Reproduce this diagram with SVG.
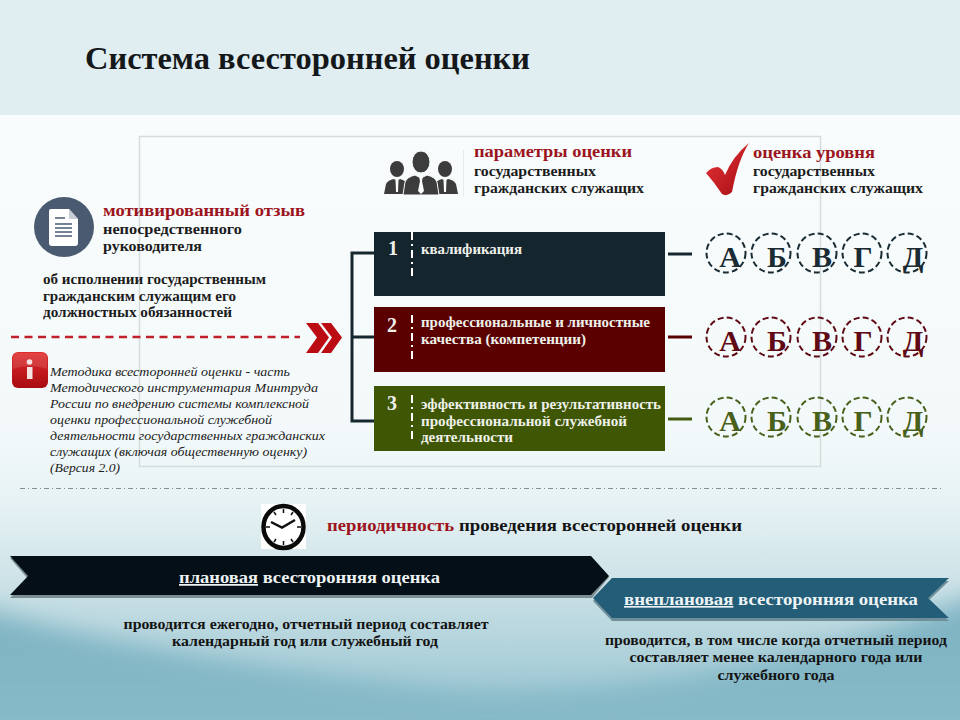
<svg xmlns="http://www.w3.org/2000/svg" width="960" height="720" viewBox="0 0 960 720">
<style>
text{font-family:"Liberation Serif","DejaVu Serif",serif;fill:#141414}
.b{font-weight:bold}
.s{font-size:14px;font-weight:bold;fill:#1c1c1c}
.r{font-size:16.500px;font-weight:bold;fill:#9c1420}
.w{font-size:14px;font-weight:bold;fill:#eef0ea}
.n{font-size:20px;font-weight:bold;fill:#f0f0ea}
.i{font-size:13.500px;font-style:italic;fill:#222}
.l{font-size:30px;font-weight:bold;text-anchor:middle}
.c{fill:none;stroke-width:2;stroke-dasharray:6 3.200}
.d{fill:none;stroke:#fff;stroke-width:2;stroke-dasharray:8 4 2 4}
</style>
<defs>
<linearGradient id="bg" gradientUnits="userSpaceOnUse" x1="0" y1="0" x2="0" y2="720"><stop offset="0" stop-color="#fbfdfd"/><stop offset=".6" stop-color="#f3f9fa"/><stop offset=".7" stop-color="#e6f2f4"/><stop offset=".8" stop-color="#cfe3e8"/><stop offset=".93" stop-color="#a9ced8"/><stop offset="1" stop-color="#98c3cf"/></linearGradient>
<linearGradient id="wave" gradientUnits="userSpaceOnUse" x1="0" y1="580" x2="0" y2="720"><stop offset="0" stop-color="#6fa9bb"/><stop offset="1" stop-color="#84b9c8"/></linearGradient>
<linearGradient id="red" x1="0" y1="0" x2="0" y2="1"><stop offset="0" stop-color="#e02b2b"/><stop offset="1" stop-color="#a80c12"/></linearGradient>
<linearGradient id="chk" x1="0" y1="0" x2="1" y2="1"><stop offset="0" stop-color="#e8343a"/><stop offset="1" stop-color="#a40d12"/></linearGradient>
<filter id="soft" x="-5%" y="-20%" width="110%" height="140%"><feGaussianBlur stdDeviation="12"/></filter>
</defs>
<rect width="960" height="720" fill="url(#bg)"/>
<path d="M-30 606Q180 665 470 692Q730 696 990 590V760H-30z" fill="url(#wave)" filter="url(#soft)" opacity=".85"/>
<rect width="960" height="115" fill="#e0edf1"/>
<text id="title" x="85" y="69" class="b" font-size="31" textLength="445" lengthAdjust="spacingAndGlyphs" style="fill:#14181b">Система всесторонней оценки</text>
<rect x="139.500" y="136.500" width="681" height="330" fill="none" stroke="#d6dcdc" stroke-width="1.500"/>

<g id="otzyv">
<circle cx="64" cy="227" r="30" fill="#4a5b71"/>
<path d="M51 209H69L78 219V243Q78 246 75 246H52Q49 246 49 243V211Q49 209 51 209z" fill="#fff"/>
<path d="M69 209V219H78z" fill="#c8ced6"/>
<path d="M55 218H65M55 224H72M55 228H72M55 232H72M55 236H72" stroke="#4a5b71" stroke-width="1.500"/>
<text x="103" y="216" class="r" textLength="202" lengthAdjust="spacingAndGlyphs">мотивированный отзыв</text>
<text x="103" y="234" class="s" textLength="139" lengthAdjust="spacingAndGlyphs">непосредственного</text>
<text x="103" y="251" class="s" textLength="99" lengthAdjust="spacingAndGlyphs">руководителя</text>
<text x="43" y="284" class="s" textLength="223" lengthAdjust="spacingAndGlyphs">об исполнении государственным</text>
<text x="43" y="301" class="s" textLength="193" lengthAdjust="spacingAndGlyphs">гражданским служащим  его</text>
<text x="43" y="317" class="s" textLength="189" lengthAdjust="spacingAndGlyphs">должностных обязанностей</text>
</g>

<g id="connectors">
<path d="M11 337H300" stroke="#c0202a" stroke-width="2.500" stroke-dasharray="8 5.500" fill="none"/>
<path d="M374 253H352V421H374M352 337H374" fill="none" stroke="#16282f" stroke-width="3"/>
<path d="M668 254H692" stroke="#16282f" stroke-width="3"/>
<path d="M668 337H692" stroke="#5a0000" stroke-width="3"/>
<path d="M668 419H692" stroke="#435a10" stroke-width="3"/>
<path d="M20 488.500H942" stroke="#7f9094" stroke-dasharray="5 3 1 3" fill="none"/>
</g>
<path id="chevrons" d="M306 323H318L329 337.500L318 353H306L317 337.500zM321 323H331L342 337.500L331 353H321L332 337.500z" fill="#bb0c14"/>

<g id="info">
<rect x="12" y="352" width="36" height="36" rx="6" fill="url(#red)"/>
<path d="M13 369Q30 363 47 369V358Q47 353 42 353H18Q13 353 13 358z" fill="#fff" opacity=".12"/>
<circle cx="29.500" cy="362" r="2.800" fill="#f4e4e4"/>
<rect x="27" y="367" width="5.500" height="12" fill="#f4e4e4"/>
<text x="50" y="376" class="i" textLength="240" lengthAdjust="spacingAndGlyphs">Методика всесторонней оценки  - часть</text>
<text x="50" y="392" class="i" textLength="268" lengthAdjust="spacingAndGlyphs">Методического инструментария  Минтруда</text>
<text x="50" y="408" class="i" textLength="259" lengthAdjust="spacingAndGlyphs">России по внедрению системы комплексной</text>
<text x="50" y="424" class="i" textLength="222" lengthAdjust="spacingAndGlyphs">оценки профессиональной служебной</text>
<text x="50" y="440" class="i" textLength="275" lengthAdjust="spacingAndGlyphs">деятельности государственных гражданских</text>
<text x="50" y="456" class="i" textLength="257" lengthAdjust="spacingAndGlyphs">служащих (включая общественную оценку)</text>
<text x="50" y="472" class="i" textLength="70" lengthAdjust="spacingAndGlyphs">(Версия 2.0)</text>
</g>

<g id="params">
<g fill="#3c3c3c">
<ellipse cx="397" cy="169" rx="7" ry="8"/>
<ellipse cx="445" cy="169" rx="7" ry="8"/>
<path d="M384 194L386 184Q388 180 394 179L397 181L400 179Q406 181 408 184V194z"/>
<path d="M458 194L456 184Q454 180 448 179L445 181L442 179Q436 181 434 184V194z"/>
<path d="M403 195L405 182Q407 177 415 175L421 178L427 175Q435 177 437 182L439 195z" stroke="#fbfdfd" stroke-width="1"/>
<ellipse cx="421" cy="162" rx="9" ry="11" stroke="#fbfdfd" stroke-width="1"/>
</g>
<path d="M419 176H423L422 181L424 191L421 194L418 191L420 181z" fill="#fbfdfd"/>
<path d="M395.500 180H398.500L398 192H396zM443.500 180H446.500L446 192H444z" fill="#fbfdfd"/>
<path d="M463.500 150V196" stroke="#e6ecec"/>
<text x="474" y="157" class="r" textLength="158" lengthAdjust="spacingAndGlyphs">параметры оценки</text>
<text x="474" y="176" class="s" textLength="122" lengthAdjust="spacingAndGlyphs">государственных</text>
<text x="474" y="193" class="s" textLength="170" lengthAdjust="spacingAndGlyphs">гражданских служащих</text>
</g>
<g id="level">
<path d="M706 173Q711 167 718 167Q723 169 725 175Q733 156 749 143Q738 160 732 192Q727 197 722 194Q714 182 706 173z" fill="url(#chk)"/>
<text x="753" y="158" class="r" textLength="122" lengthAdjust="spacingAndGlyphs">оценка уровня</text>
<text x="753" y="176" class="s" textLength="122" lengthAdjust="spacingAndGlyphs">государственных</text>
<text x="753" y="193" class="s" textLength="170" lengthAdjust="spacingAndGlyphs">гражданских служащих</text>
</g>

<g id="row1">
<rect x="374" y="232" width="291" height="64" fill="#14252d"/>
<text x="388" y="255" class="n">1</text>
<path d="M412 232V276" class="d"/>
<text x="421" y="254" class="w" textLength="101" lengthAdjust="spacingAndGlyphs">квалификация</text>
</g>
<g id="row2">
<rect x="374" y="307" width="291" height="65" fill="#5a0000"/>
<text x="387" y="332" class="n">2</text>
<path d="M412 315V360" class="d"/>
<text x="421" y="327" class="w" textLength="229" lengthAdjust="spacingAndGlyphs">профессиональные и личностные</text>
<text x="421" y="344" class="w" textLength="165" lengthAdjust="spacingAndGlyphs">качества (компетенции)</text>
</g>
<g id="row3">
<rect x="374" y="386" width="291" height="65" fill="#3f5605"/>
<text x="387" y="410" class="n">3</text>
<path d="M412 395V440" class="d"/>
<text x="421" y="409" class="w" textLength="240" lengthAdjust="spacingAndGlyphs">эффективность и результативность</text>
<text x="421" y="426" class="w" textLength="206" lengthAdjust="spacingAndGlyphs">профессиональной служебной</text>
<text x="421" y="442" class="w" textLength="92" lengthAdjust="spacingAndGlyphs">деятельности</text>
</g>

<g id="grades1">
<g stroke="#1a2b33"><circle class="c" cx="726" cy="253" r="19.500"/><circle class="c" cx="771" cy="253" r="19.500"/><circle class="c" cx="817" cy="253" r="19.500"/><circle class="c" cx="862" cy="253" r="19.500"/><circle class="c" cx="907" cy="253" r="19.500"/></g>
<text x="730" y="267" class="l" style="fill:#1a2b33">А</text><text x="777" y="267" class="l" style="fill:#1a2b33">Б</text><text x="822" y="267" class="l" style="fill:#1a2b33">В</text><text x="863" y="267" class="l" style="fill:#1a2b33">Г</text><text x="913" y="267" class="l" style="fill:#1a2b33">Д</text>
</g>
<g id="grades2">
<g stroke="#5f0a14"><circle class="c" cx="726" cy="337" r="19.500"/><circle class="c" cx="771" cy="337" r="19.500"/><circle class="c" cx="817" cy="337" r="19.500"/><circle class="c" cx="862" cy="337" r="19.500"/><circle class="c" cx="907" cy="337" r="19.500"/></g>
<text x="730" y="351" class="l" style="fill:#5f0a14">А</text><text x="777" y="351" class="l" style="fill:#5f0a14">Б</text><text x="822" y="351" class="l" style="fill:#5f0a14">В</text><text x="863" y="351" class="l" style="fill:#5f0a14">Г</text><text x="913" y="351" class="l" style="fill:#5f0a14">Д</text>
</g>
<g id="grades3">
<g stroke="#48601a"><circle class="c" cx="726" cy="417" r="19.500"/><circle class="c" cx="771" cy="417" r="19.500"/><circle class="c" cx="817" cy="417" r="19.500"/><circle class="c" cx="862" cy="417" r="19.500"/><circle class="c" cx="907" cy="417" r="19.500"/></g>
<text x="730" y="431" class="l" style="fill:#48601a">А</text><text x="777" y="431" class="l" style="fill:#48601a">Б</text><text x="822" y="431" class="l" style="fill:#48601a">В</text><text x="863" y="431" class="l" style="fill:#48601a">Г</text><text x="913" y="431" class="l" style="fill:#48601a">Д</text>
</g>

<g id="clock">
<rect x="261" y="504" width="45" height="45" fill="#fff"/>
<ellipse cx="283.500" cy="527" rx="20" ry="21" fill="#fff" stroke="#0a0a0a" stroke-width="4.500"/>
<path d="M283.500 509V513M283.500 541V545M266 527H270M297 527H301M274 512L276 515M293 512L291 515M274 542L276 539M293 542L291 539" stroke="#111" stroke-width="1.500"/>
<path d="M271 522L282 527.500L295 520" fill="none" stroke="#111" stroke-width="2.500"/>
<text x="327" y="531" font-size="17.500" class="b" textLength="127" lengthAdjust="spacingAndGlyphs" style="fill:#9c1420">периодичность</text>
<text x="459" y="531" font-size="17.500" class="b" textLength="283" lengthAdjust="spacingAndGlyphs">проведения всесторонней оценки</text>
</g>

<g id="plan">
<path d="M10 558H592L609 577L592 598H10L28 579z" fill="#7d8e93"/>
<path d="M10 556H591L609 576L591 595H10L28 576z" fill="#040f18"/>
<text x="179" y="583" font-size="17.500" class="b" textLength="261" lengthAdjust="spacingAndGlyphs" style="fill:#eef2f2"><tspan text-decoration="underline">плановая</tspan> всесторонняя оценка</text>
<text x="306" y="629" font-size="14.500" class="b" text-anchor="middle" textLength="365" lengthAdjust="spacingAndGlyphs">проводится ежегодно, отчетный период составляет</text>
<text x="305" y="646" font-size="14.500" class="b" text-anchor="middle" textLength="266" lengthAdjust="spacingAndGlyphs">календарный год или служебный год</text>
</g>
<g id="unplan">
<path d="M612 581H949L928 601L949 621H612L593 601z" fill="#6f8f9a"/>
<path d="M612 578H949L928 598L949 618H612L593 598z" fill="#235d78"/>
<text x="624" y="605" font-size="16.500" class="b" textLength="294" lengthAdjust="spacingAndGlyphs" style="fill:#eef4f6"><tspan text-decoration="underline">внеплановая</tspan>  всесторонняя оценка</text>
<text x="776" y="645" font-size="14.500" class="b" text-anchor="middle" textLength="342" lengthAdjust="spacingAndGlyphs">проводится, в том числе когда отчетный период</text>
<text x="776" y="662" font-size="14.500" class="b" text-anchor="middle" textLength="293" lengthAdjust="spacingAndGlyphs">составляет менее календарного года или</text>
<text x="776" y="680" font-size="14.500" class="b" text-anchor="middle" textLength="117" lengthAdjust="spacingAndGlyphs">служебного года</text>
</g>
</svg>
